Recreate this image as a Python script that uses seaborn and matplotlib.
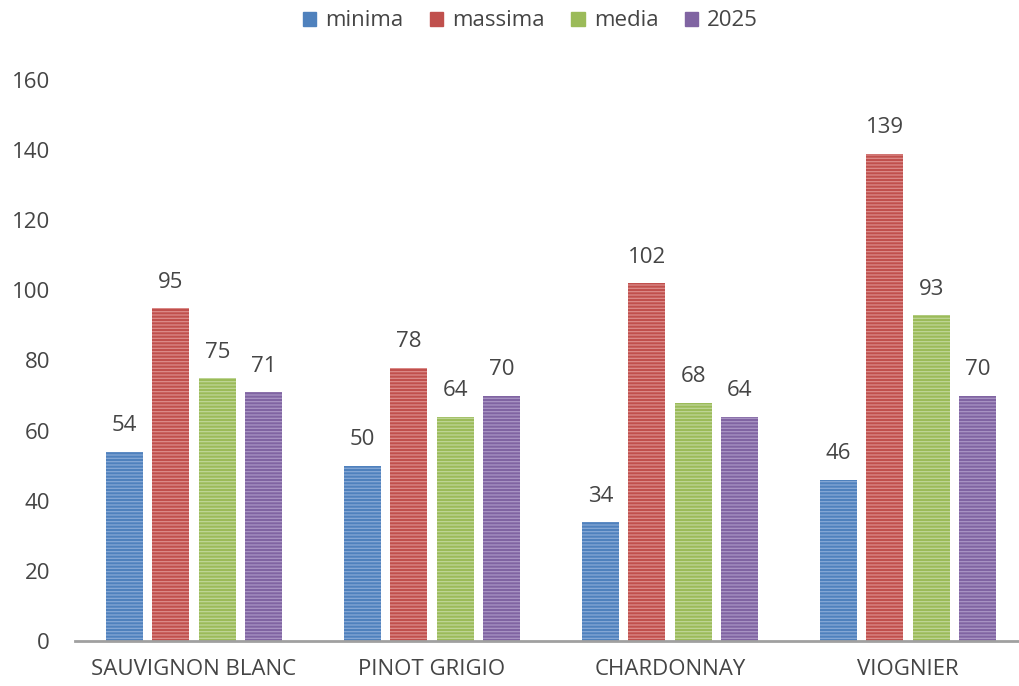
import matplotlib
matplotlib.use("Agg")
import matplotlib.pyplot as plt
import seaborn as sns
import pandas as pd
from matplotlib.patches import Patch

categories = ["SAUVIGNON BLANC", "PINOT GRIGIO", "CHARDONNAY", "VIOGNIER"]
series = ["minima", "massima", "media", "2025"]
minima = [54, 50, 34, 46]
massima = [95, 78, 102, 139]
media = [75, 64, 68, 93]
anno2025 = [71, 70, 64, 70]
yticks = [0, 20, 40, 60, 80, 100, 120, 140, 160]

colors = ["#4f81bd", "#c0504d", "#9bbb59", "#8064a2"]
stripe = ["#86a8d6", "#dc8c8a", "#bfd696", "#a995c4"]

rows = []
for s, vals in zip(series, [minima, massima, media, anno2025]):
    for c, v in zip(categories, vals):
        rows.append({"cat": c, "serie": s, "val": v})
df = pd.DataFrame(rows)

sns.set_style("white")
plt.rcParams['font.family'] = ['Open Sans', 'DejaVu Sans']
plt.rcParams['hatch.linewidth'] = 0.9

fig = plt.figure(figsize=(10.2, 6.86), dpi=100)
ax = fig.add_axes([75/1020, (686-641)/686, (1020-75)/1020, (641-80)/686])

sns.barplot(data=df, x="cat", y="val", hue="serie", order=categories,
            hue_order=series, palette=colors, width=0.78, gap=0.2,
            ax=ax, legend=False, linewidth=0, saturation=1)

txt = "#454545"
for cont, sc in zip(ax.containers, stripe):
    for p in cont:
        p.set_hatch("-----")
        p.set_edgecolor(sc)
        p.set_linewidth(0)
    ax.bar_label(cont, padding=11, fontsize=16, color=txt)

ax.set_ylim(0, 160)
ax.set_xlim(-0.5, 3.47)
ax.set_yticks(yticks)
ax.set_yticklabels([str(t) for t in yticks])
ax.set_xlabel("")
ax.set_ylabel("")
ax.tick_params(axis="y", labelsize=16, colors=txt, length=0, pad=18)
ax.tick_params(axis="x", labelsize=16, colors=txt, length=0, pad=13)
for sp in ["top", "right", "left"]:
    ax.spines[sp].set_visible(False)
ax.spines["bottom"].set_color("#a0a0a0")
ax.spines["bottom"].set_linewidth(2)

handles = [Patch(facecolor=c, edgecolor=c) for c in colors]
fig.legend(handles, series, loc="center", bbox_to_anchor=(0.52, 1 - 21/686),
           ncol=4, frameon=False, fontsize=16, handlelength=0.6,
           handleheight=0.6, handletextpad=0.4, columnspacing=1.2,
           labelcolor=txt)

fig.savefig("out.png", dpi=100)
